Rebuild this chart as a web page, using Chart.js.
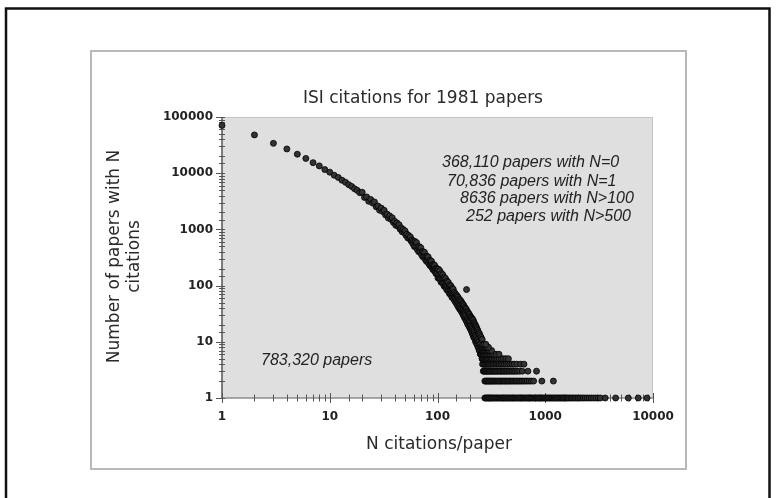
<!DOCTYPE html>
<html><head><meta charset="utf-8">
<script src="https://cdn.jsdelivr.net/npm/chart.js@4.4.1/dist/chart.umd.min.js"></script>
<style>html,body{margin:0;padding:0;background:#fff;}#wrap{width:779px;height:498px;}</style>
</head><body><div id="wrap"><canvas id="c" width="779" height="498"></canvas></div>
<script>
const chartTitle = 'ISI citations for 1981 papers';
const xAxisTitle = 'N citations/paper';
const yAxisTitle = ['Number of papers with N', 'citations'];
const notes = ['368,110 papers with N=0', '70,836 papers with N=1', '8636 papers with N>100', '252 papers with N>500'];
const totalNote = '783,320 papers';
const xTickLabels = ['1', '10', '100', '1000', '10000'];
const yTickLabels = ['1', '10', '100', '1000', '10000', '100000'];

// number of papers with exactly N citations, N = 1, 2, 3, ... 260
const countsByN = [
  70836, 48000, 34000, 27000, 21800, 18300, 15400, 13500, 11600, 10450,
  9200, 8400, 7500, 6900, 6250, 5800, 5280, 4950, 4500, 4580,
  3704, 3780, 3160, 3413, 2939, 3078, 2522, 2606, 2202, 2401,
  2074, 2185, 1802, 1875, 1592, 1739, 1513, 1605, 1331, 1393,
  1185, 1304, 1140, 1212, 1011, 1061, 907, 1001, 878, 939,
  783, 822, 706, 780, 687, 735, 616, 649, 558, 620,
  495, 607, 497, 580, 437, 494, 400, 491, 403, 472,
  356, 402, 326, 402, 331, 388, 293, 332, 270, 334,
  275, 323, 246, 278, 227, 280, 231, 271, 207, 234,
  191, 236, 196, 230, 176, 200, 163, 203, 167, 197,
  137, 196, 159, 132, 184, 135, 158, 115, 164, 134,
  111, 156, 115, 134, 98, 140, 114, 94, 133, 98,
  115, 84, 120, 98, 81, 114, 84, 99, 72, 103,
  84, 70, 99, 73, 85, 62, 90, 73, 61, 86,
  70, 57, 76, 64, 53, 72, 60, 50, 68, 55,
  47, 66, 52, 44, 62, 50, 41, 58, 47, 39,
  56, 44, 37, 54, 41, 35, 51, 39, 33, 48,
  37, 31, 46, 36, 29, 44, 34, 27, 41, 32,
  26, 39, 30, 24, 38, 85, 23, 35, 27, 21,
  34, 25, 20, 32, 24, 19, 31, 23, 18, 29,
  22, 17, 28, 20, 16, 27, 19, 15, 26, 18,
  14, 25, 17, 13, 24, 16, 12, 22, 15, 12,
  21, 14, 11, 20, 13, 10, 19, 13, 10, 18,
  12, 9, 17, 11, 9, 16, 11, 8, 15, 10,
  8, 14, 10, 7, 14, 9, 7, 13, 9, 6,
  12, 8, 6, 12, 8, 6, 11, 7, 5, 11
];

// tail: citation counts N (> 260) that had exactly k papers
const tailNWith9 = [262, 270, 281];
const tailNWith8 = [261, 268, 276, 285, 297];
const tailNWith7 = [262, 266, 272, 279, 287, 296, 305, 318];
const tailNWith6 = [263, 267, 273, 280, 289, 298, 308, 320, 333, 350, 372];
const tailNWith5 = [261, 264, 270, 276, 283, 290, 298, 306, 315, 325, 336, 348, 361, 375, 392, 410, 432, 455];
const tailNWith4 = [262, 268, 274, 281, 288, 295, 303, 311, 320, 330, 340, 351, 363, 375, 388, 402, 417, 433, 450, 470, 492, 515, 545, 590, 635];
const tailNWith3 = [266, 271, 277, 283, 289, 296, 303, 310, 318, 326, 334, 343, 352, 362, 372, 383, 394, 406, 418, 431, 445, 460, 476, 493, 511, 530, 552, 578, 612, 690, 830];
const tailNWith2 = [275, 280, 286, 292, 298, 304, 311, 318, 325, 333, 341, 349, 358, 367, 376, 386, 396, 406, 417, 428, 440, 452, 465, 478, 492, 507, 522, 538, 555, 573, 592, 612, 634, 657, 682, 710, 742, 780, 930, 1190];
const tailNWith1 = [275, 280, 286, 292, 298, 305, 312, 318, 325, 332, 340, 348, 355, 363, 372, 380, 389, 398, 407, 416, 426, 436, 446, 456, 467, 478, 489, 500, 512, 524, 537, 550, 563, 577, 591, 605, 620, 635, 650, 666, 682, 698, 715, 732, 750, 768, 786, 805, 825, 845, 865, 886, 907, 929, 951, 974, 998, 1022, 1047, 1072, 1098, 1125, 1152, 1180, 1209, 1238, 1268, 1300, 1332, 1365, 1400, 1435, 1470, 1510, 1550, 1590, 1630, 1680, 1730, 1780, 1840, 1900, 1960, 2030, 2100, 2180, 2260, 2350, 2450, 2560, 2680, 2810, 2950, 3100, 3250, 3600, 4500, 5900, 7300, 8800];

const tailRows = [[1, tailNWith1], [2, tailNWith2], [3, tailNWith3], [4, tailNWith4], [5, tailNWith5], [6, tailNWith6], [7, tailNWith7], [8, tailNWith8], [9, tailNWith9]];
const points = countsByN.map((c, i) => ({ x: i + 1, y: c }));
tailRows.forEach(([k, arr]) => arr.forEach(n => points.push({ x: n, y: k })));

const decorPlugin = {
  id: 'decor',
  beforeDraw(chart) {
    const ctx = chart.ctx;
    ctx.save();
    ctx.fillStyle = '#fff';
    ctx.fillRect(0, 0, chart.width, chart.height);
    ctx.strokeStyle = '#111';
    ctx.lineWidth = 2.5;
    ctx.strokeRect(6, 8.5, 763.5, 520);
    ctx.strokeStyle = '#b9b9b9';
    ctx.lineWidth = 2;
    ctx.strokeRect(91, 51, 595, 418);
    ctx.restore();
  },
  beforeDatasetsDraw(chart) {
    const ctx = chart.ctx, a = chart.chartArea;
    const xs = chart.scales.x, ys = chart.scales.y;
    ctx.save();
    ctx.fillStyle = '#dfdfdf';
    ctx.fillRect(a.left, a.top, a.right - a.left, a.bottom - a.top);
    ctx.strokeStyle = '#c4c4c4';
    ctx.lineWidth = 1;
    ctx.beginPath();
    ctx.moveTo(a.left, a.top + 0.5); ctx.lineTo(a.right - 0.5, a.top + 0.5); ctx.lineTo(a.right - 0.5, a.bottom);
    ctx.stroke();
    ctx.strokeStyle = '#8c8c8c';
    ctx.lineWidth = 1.5;
    ctx.beginPath(); ctx.moveTo(a.left, a.bottom); ctx.lineTo(a.right, a.bottom); ctx.stroke();
    ctx.strokeStyle = '#555';
    ctx.beginPath(); ctx.moveTo(a.left, a.top); ctx.lineTo(a.left, a.bottom); ctx.stroke();
    ctx.lineWidth = 1;
    xs.ticks.forEach(t => {
      const p = Math.round(xs.getPixelForValue(t.value)) + 0.5;
      const major = xTickLabels.includes(String(Math.round(t.value)));
      const h = major ? 5 : 3.5;
      ctx.strokeStyle = '#555';
      ctx.beginPath(); ctx.moveTo(p, a.bottom - h); ctx.lineTo(p, a.bottom + h); ctx.stroke();
    });
    ys.ticks.forEach(t => {
      const p = Math.round(ys.getPixelForValue(t.value)) + 0.5;
      const major = yTickLabels.includes(String(Math.round(t.value)));
      ctx.strokeStyle = '#555';
      ctx.beginPath(); ctx.moveTo(a.left - (major ? 6 : 3), p); ctx.lineTo(a.left + 3, p); ctx.stroke();
    });
    ctx.restore();
  },
  afterDraw(chart) {
    const ctx = chart.ctx, a = chart.chartArea;
    ctx.save();
    ctx.fillStyle = '#2a2a2a';
    ctx.textAlign = 'center';
    ctx.textBaseline = 'middle';
    ctx.font = '17px "DejaVu Sans"';
    ctx.fillText(chartTitle, a.left + 201, a.top - 18);
    ctx.fillText(xAxisTitle, a.left + 217, a.bottom + 47);
    ctx.save();
    ctx.translate(a.left - 107, (a.top + a.bottom) / 2 - 1);
    ctx.rotate(-Math.PI / 2);
    ctx.fillText(yAxisTitle[0], 0, 0);
    ctx.fillText(yAxisTitle[1], 0, 20);
    ctx.restore();
    ctx.font = 'italic 16px "Liberation Sans"';
    ctx.textAlign = 'left';
    ctx.fillStyle = '#222';
    const lx = [a.left + 220, a.left + 225, a.left + 238, a.left + 244];
    const ly = [a.top + 46, a.top + 65, a.top + 82, a.top + 100];
    notes.forEach((s, i) => ctx.fillText(s, lx[i], ly[i]));
    ctx.fillText(totalNote, a.left + 39, a.top + 244);
    ctx.restore();
  }
};

new Chart(document.getElementById('c'), {
  type: 'scatter',
  data: {
    datasets: [{
      data: points,
      pointRadius: 3,
      pointBackgroundColor: '#333',
      pointBorderColor: '#000',
      pointBorderWidth: 0.8,
      clip: false
    }]
  },
  options: {
    responsive: false,
    animation: false,
    devicePixelRatio: 1,
    layout: { padding: { left: 0, top: 117, right: 126, bottom: 0 } },
    plugins: { legend: { display: false }, tooltip: { enabled: false } },
    scales: {
      x: {
        type: 'logarithmic', min: 1, max: 10000,
        afterFit: s => { s.height = 100; },
        grid: { display: false, drawTicks: false },
        border: { display: false },
        ticks: {
          autoSkip: false, maxRotation: 0, padding: 12, color: '#222',
          font: { family: 'DejaVu Sans', size: 12, weight: 'bold' },
          callback: v => { const s = String(Math.round(v)); return xTickLabels.includes(s) ? s : ''; }
        }
      },
      y: {
        type: 'logarithmic', min: 1, max: 100000,
        afterFit: s => { s.width = 222; },
        grid: { display: false, drawTicks: false },
        border: { display: false },
        ticks: {
          autoSkip: false, padding: 9, color: '#222',
          font: { family: 'DejaVu Sans', size: 12, weight: 'bold' },
          callback: v => { const s = String(Math.round(v)); return yTickLabels.includes(s) ? s : ''; }
        }
      }
    }
  },
  plugins: [decorPlugin]
});
</script></body></html>
